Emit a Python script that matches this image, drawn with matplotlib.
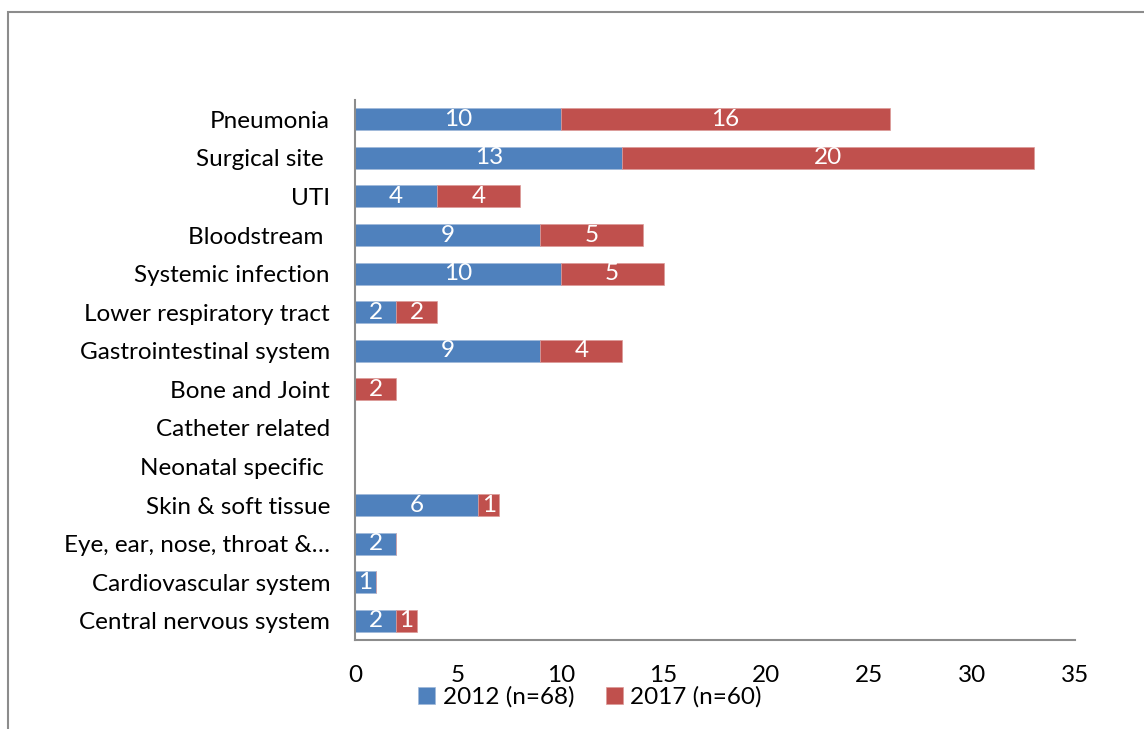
import matplotlib.pyplot as plt
from matplotlib.patches import Rectangle
import numpy as np

plt.rcParams['font.family'] = ['Lato', 'DejaVu Sans']

# --- data (top to bottom as in the chart) ---
categories = ['Pneumonia', 'Surgical site ', 'UTI', 'Bloodstream ', 'Systemic infection',
              'Lower respiratory tract', 'Gastrointestinal system', 'Bone and Joint',
              'Catheter related', 'Neonatal specific ', 'Skin & soft tissue',
              'Eye, ear, nose, throat &…', 'Cardiovascular system', 'Central nervous system']
v2012 = [10, 13, 4, 9, 10, 2, 9, 0, 0, 0, 6, 2, 1, 2]
v2017 = [16, 20, 4, 5, 5, 2, 4, 2, 0, 0, 1, 0, 0, 1]
series_labels = ['2012 (n=68)', '2017 (n=60)']
xticks = [0, 5, 10, 15, 20, 25, 30, 35]

blue = '#4F81BD'
red = '#C0504D'
fs = 17.5

fig = plt.figure(figsize=(11.44, 7.29), dpi=100)
ax = fig.add_axes([355/1144, 1 - 640/729, (1075 - 355)/1144, 540/729])

# outer chart frame
fig.patches.append(Rectangle((8/1144, -0.1), 1.2, 1 - 12/729 + 0.1, transform=fig.transFigure,
                             fill=False, edgecolor='#8c8c8c', linewidth=1.5))

y = np.arange(len(categories))
h = 0.57
b1 = ax.barh(y, v2012, height=h, color=blue, edgecolor='#9fb8da', linewidth=0.5, label=series_labels[0])
b2 = ax.barh(y, v2017, left=v2012, height=h, color=red, edgecolor='#dc9a98', linewidth=0.5, label=series_labels[1])

for vals, offs in [(v2012, [0]*len(v2012)), (v2017, v2012)]:
    for yi, v, o in zip(y, vals, offs):
        if v > 0:
            ax.text(o + v/2, yi, str(v), ha='center', va='center', color='white', fontsize=fs)

ax.set_ylim(len(categories) - 0.5, -0.5)
ax.set_xlim(0, 35)
ax.set_yticks(y)
ax.set_yticklabels(categories, fontsize=fs)
ax.set_xticks(xticks)
ax.set_xticklabels([str(t) for t in xticks], fontsize=fs)
ax.tick_params(axis='both', length=0)
ax.tick_params(axis='y', pad=18)
ax.tick_params(axis='x', pad=18)
for s in ['top', 'right']:
    ax.spines[s].set_visible(False)
for s in ['left', 'bottom']:
    ax.spines[s].set_color('#8c8c8c')
    ax.spines[s].set_linewidth(1.5)

fig.legend(loc='center', bbox_to_anchor=(590/1144, 1 - 697/729), ncol=2, frameon=False,
           fontsize=fs, handlelength=0.7, handleheight=0.7, handletextpad=0.3, columnspacing=1.3,
           borderpad=0, borderaxespad=0)

fig.savefig('out.png', dpi=100)
